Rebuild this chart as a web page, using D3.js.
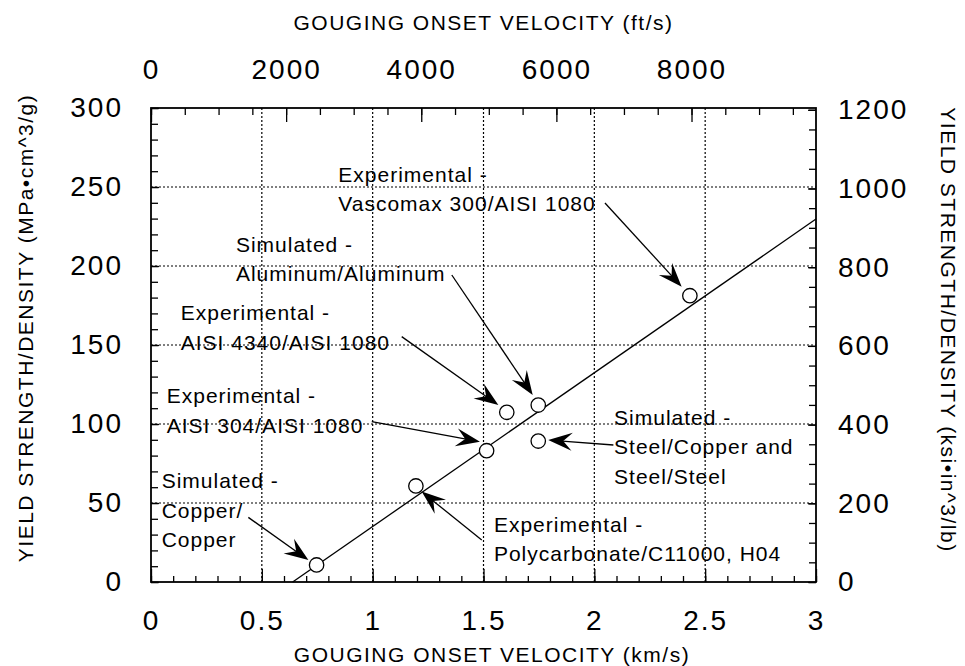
<!DOCTYPE html>
<meta charset="utf-8">
<style>
body { margin: 0; background: #fff; }
svg { display: block; font-family: "Liberation Sans", Arial, Helvetica, sans-serif; }
.grid line { stroke: #000; stroke-width: 1.2; stroke-dasharray: 2,2; }
.axis path { display: none; }
.axis line { stroke: #000; stroke-width: 1.3; }
.axis text { font-size: 28px; letter-spacing: 2px; fill: #000; }
.note { font-size: 21px; letter-spacing: 1px; }
.title { font-size: 21px; letter-spacing: 1.5px; }
</style>
<body>
<svg id="chart" width="965" height="666"></svg>
<script src="https://cdn.jsdelivr.net/npm/d3@7/dist/d3.min.js"></script>
<script>
// axis ticks
var kmsTicks = [0, 0.5, 1, 1.5, 2, 2.5, 3];
var mpaTicks = [0, 50, 100, 150, 200, 250, 300];
var ftsTicks = [0, 2000, 4000, 6000, 8000];
var ksiTicks = [0, 200, 400, 600, 800, 1000, 1200];

// measured points (km/s, MPa*cm^3/g)
var velocity = [0.747, 1.195, 1.514, 1.605, 1.747, 1.747, 2.431];
var strength = [10.8, 60.8, 83.1, 107.4, 112.0, 89.2, 181.2];

// fitted line end points
var fitVelocity = [0.639, 3.0];
var fitStrength = [0, 229.7];

// annotations: text lines, where the text starts, arrow tail and head (data units)
var noteLines = [
  ["Experimental -", "Vascomax 300/AISI 1080"],
  ["Simulated -", "Aluminum/Aluminum"],
  ["Experimental -", "AISI 4340/AISI 1080"],
  ["Experimental -", "AISI 304/AISI 1080"],
  ["Simulated -", "Steel/Copper and", "Steel/Steel"],
  ["Experimental -", "Polycarbonate/C11000, H04"],
  ["Simulated -", "Copper/", "Copper"]
];
var noteX = [0.845, 0.383, 0.134, 0.071, 2.089, 1.547, 0.048];
var noteY = [253.2, 209.1, 165.8, 113.1, 99.4, 31.8, 59.3];
var tailX = [2.048, 1.357, 1.131, 0.996, 2.086, 1.492, 0.439];
var tailY = [239.9, 194.3, 155.3, 101.5, 86.7, 26.6, 40.9];
var headX = [2.394, 1.722, 1.567, 1.484, 1.792, 1.221, 0.710];
var headY = [186.9, 118.4, 112.0, 88.8, 89.9, 57.2, 13.9];

var KM_TO_FT = 1 / 0.0003048;
var MPA_TO_KSI = 4.015;

var padL = 151, padR = 816, padT = 108, padB = 582;

var svg = d3.select("#chart");

var x = d3.scaleLinear().domain([0, 3]).range([padL, padR]);
var y = d3.scaleLinear().domain([0, 300]).range([padB, padT]);
var xFt = d3.scaleLinear().domain([0, 3 * KM_TO_FT]).range([padL, padR]);
var yKsi = d3.scaleLinear().domain([0, 300 * MPA_TO_KSI]).range([padB, padT]);

// grid
var grid = svg.append("g").attr("class", "grid");
grid.selectAll(".gx")
    .data(kmsTicks.slice(1, -1))
    .enter().append("line")
      .attr("x1", d => x(d)).attr("x2", d => x(d))
      .attr("y1", padT).attr("y2", padB);
grid.selectAll(".gy")
    .data(mpaTicks.slice(1, -1))
    .enter().append("line")
      .attr("x1", padL).attr("x2", padR)
      .attr("y1", d => y(d)).attr("y2", d => y(d));

// minor ticks
svg.append("g").attr("class", "axis")
    .attr("transform", "translate(0," + padB + ")")
    .call(d3.axisBottom(x).tickValues(d3.range(0, 3.001, 0.1)).tickSize(-6).tickFormat(""));
svg.append("g").attr("class", "axis")
    .attr("transform", "translate(0," + padT + ")")
    .call(d3.axisTop(xFt).tickValues(d3.range(0, 9600, 500)).tickSize(-7).tickFormat(""));
svg.append("g").attr("class", "axis")
    .attr("transform", "translate(" + padL + ",0)")
    .call(d3.axisLeft(y).tickValues(d3.range(0, 301, 10)).tickSize(-7).tickFormat(""));
svg.append("g").attr("class", "axis")
    .attr("transform", "translate(" + padR + ",0)")
    .call(d3.axisRight(yKsi).tickValues(d3.range(0, 1201, 50)).tickSize(-7).tickFormat(""));

// major ticks and labels
svg.append("g").attr("class", "axis")
    .attr("transform", "translate(0," + padB + ")")
    .call(d3.axisBottom(x).tickValues(kmsTicks).tickSize(-13).tickPadding(28).tickFormat(d3.format("")));
svg.append("g").attr("class", "axis")
    .attr("transform", "translate(0," + padT + ")")
    .call(d3.axisTop(xFt).tickValues(ftsTicks).tickSize(-14).tickPadding(29).tickFormat(d3.format("d")));
svg.append("g").attr("class", "axis")
    .attr("transform", "translate(" + padL + ",0)")
    .call(d3.axisLeft(y).tickValues(mpaTicks).tickSize(-8).tickPadding(28).tickFormat(d3.format("d")));
svg.append("g").attr("class", "axis")
    .attr("transform", "translate(" + padR + ",0)")
    .call(d3.axisRight(yKsi).tickValues(ksiTicks).tickSize(-8).tickPadding(22).tickFormat(d3.format("d")));

// frame
svg.append("rect")
    .attr("x", padL).attr("y", padT)
    .attr("width", padR - padL).attr("height", padB - padT)
    .attr("fill", "none").attr("stroke", "#000").attr("stroke-width", 1.8);

// fit line
var fit = d3.range(fitVelocity.length).map(i => [fitVelocity[i], fitStrength[i]]);
svg.append("path")
    .datum(fit)
    .attr("fill", "none").attr("stroke", "#000").attr("stroke-width", 1.3)
    .attr("d", d3.line().x(d => x(d[0])).y(d => y(d[1])));

// arrows
function arrowHead(x0, y0, x1, y1) {
  var L = 24, W = 9, N = 15;
  var a = Math.atan2(y1 - y0, x1 - x0), c = Math.cos(a), s = Math.sin(a);
  var bx = x1 - L * c, by = y1 - L * s;
  var nx = x1 - N * c, ny = y1 - N * s;
  return "M" + x1 + "," + y1 +
    "L" + (bx - W * s) + "," + (by + W * c) +
    "L" + nx + "," + ny +
    "L" + (bx + W * s) + "," + (by - W * c) + "Z";
}
var arrows = svg.append("g");
noteLines.forEach(function(lines, i) {
  var x0 = x(tailX[i]), y0 = y(tailY[i]), x1 = x(headX[i]), y1 = y(headY[i]);
  var a = Math.atan2(y1 - y0, x1 - x0);
  arrows.append("line")
      .attr("x1", x0).attr("y1", y0)
      .attr("x2", x1 - 14 * Math.cos(a)).attr("y2", y1 - 14 * Math.sin(a))
      .attr("stroke", "#000").attr("stroke-width", 1.3);
  arrows.append("path").attr("d", arrowHead(x0, y0, x1, y1)).attr("fill", "#000");
});

// points
svg.append("g").selectAll("circle")
    .data(velocity)
    .enter().append("circle")
      .attr("cx", d => x(d))
      .attr("cy", (d, i) => y(strength[i]))
      .attr("r", 7.2)
      .attr("fill", "#fff").attr("stroke", "#000").attr("stroke-width", 1.3);

// annotation text
noteLines.forEach(function(lines, i) {
  var t = svg.append("text").attr("class", "note")
      .attr("x", x(noteX[i])).attr("y", y(noteY[i]));
  lines.forEach(function(line, j) {
    t.append("tspan").attr("x", x(noteX[i])).attr("dy", j ? 29.5 : 0).text(line);
  });
});

// axis titles
svg.append("text").attr("class", "title")
    .attr("x", (padL + padR) / 2).attr("y", 30)
    .attr("text-anchor", "middle")
    .text("GOUGING ONSET VELOCITY (ft/s)");
svg.append("text").attr("class", "title")
    .attr("x", 492).attr("y", 662)
    .attr("text-anchor", "middle")
    .text("GOUGING ONSET VELOCITY (km/s)");
svg.append("text").attr("class", "title")
    .attr("transform", "translate(33,328) rotate(-90)")
    .attr("text-anchor", "middle")
    .text("YIELD STRENGTH/DENSITY (MPa\u2022cm^3/g)");
svg.append("text").attr("class", "title")
    .attr("transform", "translate(941,330) rotate(90)")
    .attr("text-anchor", "middle")
    .text("YIELD STRENGTH/DENSITY (ksi\u2022in^3/lb)");
</script>
</body>
